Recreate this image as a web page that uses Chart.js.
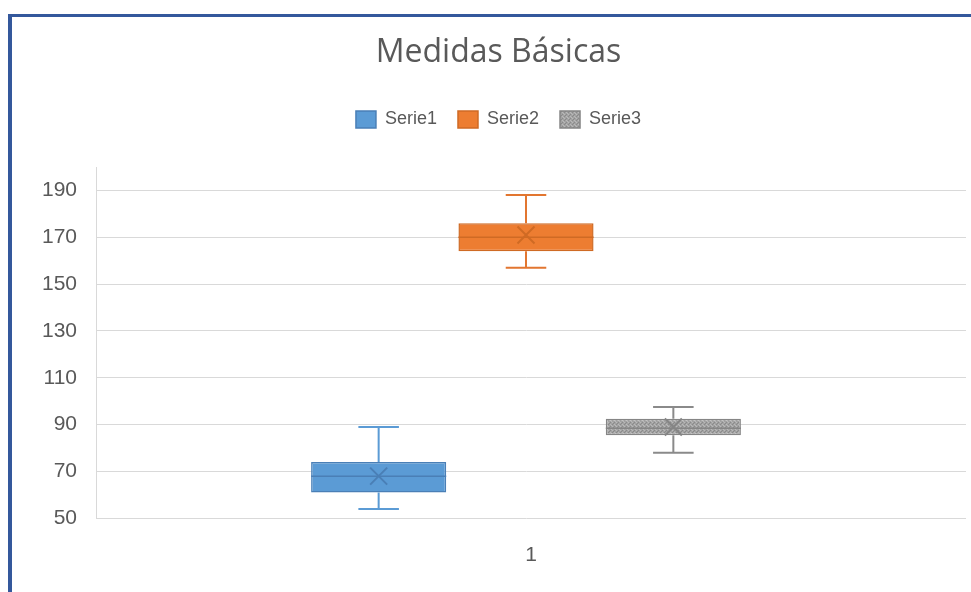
<!DOCTYPE html>
<html>
<head>
<meta charset="utf-8">
<title>Medidas Básicas</title>
<script src="https://cdn.jsdelivr.net/npm/chart.js@4.4.1/dist/chart.umd.min.js"></script>
<style>
  html, body { margin: 0; padding: 0; background: #ffffff; overflow: hidden; }
  #frame {
    position: absolute; left: 8px; top: 14px; width: 990px; height: 600px;
    border-top: 3px solid #34589c; border-left: 4px solid #34589c; box-sizing: border-box;
  }
  #wrap { position: absolute; left: 0; top: 0; width: 971px; height: 592px; }
</style>
</head>
<body>
<div id="frame"></div>
<div id="wrap"><canvas id="chart" width="971" height="592"></canvas></div>
<script>
// Box-plot statistics per series
const categories   = ['1'];
const seriesNames  = ['Serie1', 'Serie2', 'Serie3'];
const minValues    = [54, 157, 78];
const q1Values     = [61, 164, 85.5];
const medianValues = [68, 170, 88.5];
const q3Values     = [74, 176, 92.5];
const maxValues    = [89, 188, 97.5];
const meanValues   = [68, 171, 89];
const yTickValues  = [50, 70, 90, 110, 130, 150, 170, 190];

// Fine speckled texture used for the grey series
function greyTexture() {
  const c = document.createElement('canvas');
  c.width = 4; c.height = 4;
  const g = c.getContext('2d');
  g.fillStyle = '#a2a2a2'; g.fillRect(0, 0, 4, 4);
  g.fillStyle = '#8a8a8a';
  g.fillRect(0, 0, 1, 1); g.fillRect(2, 2, 1, 1); g.fillRect(1, 3, 1, 1);
  g.fillStyle = '#b9b9b9';
  g.fillRect(2, 0, 1, 1); g.fillRect(0, 2, 1, 1); g.fillRect(3, 1, 1, 1);
  return g.createPattern(c, 'repeat');
}

const fills    = ['#5b9bd5', '#ed7d31', greyTexture()];
const edges    = ['#4a7fb6', '#cf6a24', '#858585'];
const whiskers = ['#5b9bd5', '#e27630', '#8a8a8a'];

const textColor = '#595959';
const gridColor = '#d9d9d9';
const tickFont  = { family: "'Liberation Sans', Arial, sans-serif", size: 21 };
const gridOverhang = 10;

// Extra room between the legend and the plot area
const legendGap = {
  id: 'legendGap',
  beforeInit(chart) {
    const legend = chart.legend;
    if (!legend) return;
    const fit = legend.fit;
    legend.fit = function () { fit.call(this); this.height += 28.5; };
  }
};

// Horizontal gridlines run a little past the right edge of the plot area
const gridExtension = {
  id: 'gridExtension',
  beforeDatasetsDraw(chart) {
    const { ctx, chartArea } = chart;
    const y = chart.scales.y;
    ctx.save();
    ctx.strokeStyle = gridColor;
    ctx.lineWidth = 1;
    y.ticks.forEach(t => {
      const py = Math.round(y.getPixelForValue(t.value) - 0.5) + 0.5;
      ctx.beginPath();
      ctx.moveTo(chartArea.right, py);
      ctx.lineTo(chartArea.right + gridOverhang, py);
      ctx.stroke();
    });
    ctx.restore();
  }
};

// Whiskers, median line and mean marker on top of each box
const boxPlotExtras = {
  id: 'boxPlotExtras',
  afterDatasetsDraw(chart) {
    const { ctx } = chart;
    const y = chart.scales.y;
    chart.data.datasets.forEach((ds, i) => {
      const bar = chart.getDatasetMeta(i).data[0];
      if (!bar) return;
      const cx = bar.x;
      const half = bar.width / 2;
      const cap = bar.width * 0.15;
      const yMin = y.getPixelForValue(minValues[i]);
      const yQ1 = y.getPixelForValue(q1Values[i]);
      const yMed = y.getPixelForValue(medianValues[i]);
      const yQ3 = y.getPixelForValue(q3Values[i]);
      const yMax = y.getPixelForValue(maxValues[i]);
      const yMean = y.getPixelForValue(meanValues[i]);

      ctx.save();
      ctx.lineCap = 'butt';
      ctx.strokeStyle = whiskers[i];
      ctx.lineWidth = 2;
      ctx.beginPath();
      ctx.moveTo(cx, yQ3); ctx.lineTo(cx, yMax);
      ctx.moveTo(cx, yQ1); ctx.lineTo(cx, yMin);
      ctx.moveTo(cx - cap, yMax); ctx.lineTo(cx + cap, yMax);
      ctx.moveTo(cx - cap, yMin); ctx.lineTo(cx + cap, yMin);
      ctx.stroke();

      ctx.strokeStyle = edges[i];
      ctx.lineWidth = 1.5;
      ctx.beginPath();
      ctx.moveTo(cx - half, yMed); ctx.lineTo(cx + half, yMed);
      ctx.stroke();

      const s = 8.5;
      ctx.lineWidth = 2;
      ctx.beginPath();
      ctx.moveTo(cx - s, yMean - s); ctx.lineTo(cx + s, yMean + s);
      ctx.moveTo(cx + s, yMean - s); ctx.lineTo(cx - s, yMean + s);
      ctx.stroke();
      ctx.restore();
    });
  }
};

new Chart(document.getElementById('chart'), {
  type: 'bar',
  data: {
    labels: categories,
    datasets: seriesNames.map((name, i) => ({
      label: name,
      data: [[q1Values[i], q3Values[i]]],
      backgroundColor: fills[i],
      borderColor: edges[i],
      borderWidth: 1.5,
      borderSkipped: false,
      categoryPercentage: 0.514,
      barPercentage: 0.917
    }))
  },
  options: {
    responsive: false,
    animation: false,
    layout: { padding: { left: 41, right: 15, top: 0, bottom: 0 } },
    plugins: {
      title: {
        display: true,
        text: 'Medidas Básicas',
        color: textColor,
        font: { family: "'Open Sans', 'Noto Sans', sans-serif", size: 32, weight: 'normal' },
        padding: { top: 33.8, bottom: 17.3 }
      },
      legend: {
        labels: {
          color: textColor,
          font: { family: "'Liberation Sans', Arial, sans-serif", size: 18 },
          boxWidth: 20,
          boxHeight: 17,
          padding: 21
        }
      },
      tooltip: { enabled: false }
    },
    scales: {
      x: {
        grid: { display: false, drawTicks: false },
        border: { display: false },
        ticks: { color: textColor, font: tickFont, padding: 24, labelOffset: 5 },
        afterFit(scale) { scale.height = 73.7; }
      },
      y: {
        min: 50,
        max: 200,
        grid: { color: gridColor, drawTicks: false },
        border: { color: gridColor },
        ticks: { color: textColor, font: tickFont, padding: 19 },
        afterBuildTicks(scale) { scale.ticks = yTickValues.map(v => ({ value: v })); },
        afterFit(scale) { scale.width = 55; }
      }
    }
  },
  plugins: [legendGap, gridExtension, boxPlotExtras]
});
</script>
</body>
</html>
